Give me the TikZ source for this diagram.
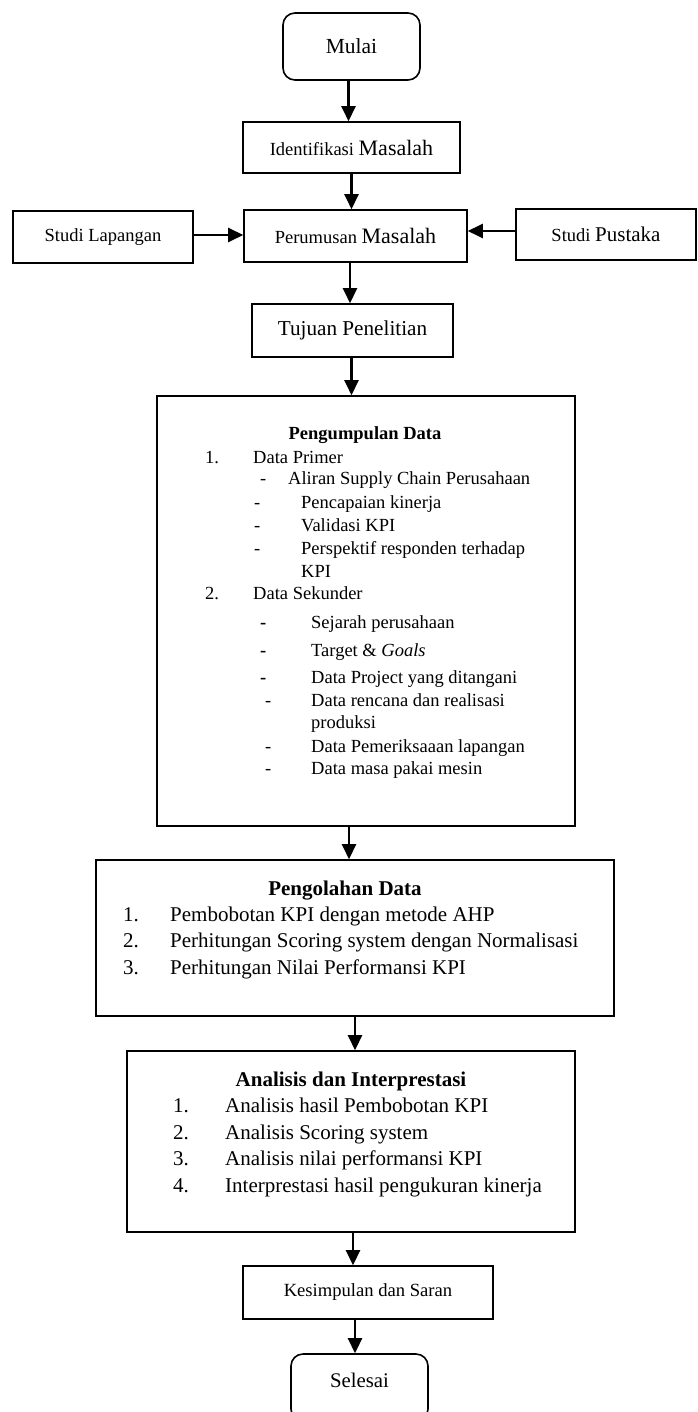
\documentclass[tikz,border=0pt]{standalone}
\usepackage{fontspec}
\setmainfont{Liberation Serif}
\usetikzlibrary{arrows.meta}
\newcommand\ff[1]{\fontsize{#1}{#1}\selectfont}
\begin{document}
\begin{tikzpicture}[x=1pt,y=-1pt,
  box/.style={draw, line width=1.6pt, inner sep=0pt, align=center},
  term/.style={box, rounded corners=12pt},
  arr/.style={line width=2.5pt, -{Triangle[length=15pt,width=14pt]}},
  txt/.style={anchor=base west, inner sep=0pt},
  ttl/.style={anchor=base, inner sep=0pt}]
\useasboundingbox (0,0) rectangle (697,1412);
\clip (0,0) rectangle (697,1412);

% simple boxes
\node[term, minimum width=137pt, minimum height=67pt] (mulai) at (351.5,46.5) {\ff{21.5}Mulai};
\node[box, minimum width=217pt, minimum height=51pt] (idf) at (351.5,147.5) {\ff{18.5}Identifikasi \ff{22}Masalah};
\node[box, minimum width=223pt, minimum height=52pt] (per) at (355.5,236) {\ff{18.5}Perumusan \ff{22}Masalah};
\node[box, minimum width=180pt, minimum height=52pt] (lap) at (103,237) {\ff{18.5}Studi Lapangan};
\node[box, minimum width=180pt, minimum height=51pt] (pus) at (606,234.5) {\ff{18.5}Studi \ff{21}Pustaka};
\node[box, minimum width=201pt, minimum height=53pt] (tuj) at (352.5,330.5) {\ff{21.2}Tujuan Penelitian};
\node[box, minimum width=418pt, minimum height=430pt] (pgm) at (366,611) {};
\node[box, minimum width=518pt, minimum height=156pt] (olh) at (355,938) {};
\node[box, minimum width=448pt, minimum height=181pt] (ana) at (351,1141.5) {};
\node[box, minimum width=250pt, minimum height=53pt] (kes) at (368,1292.5) {\ff{18.6}Kesimpulan dan Saran};
\node[term, minimum width=137pt, minimum height=67pt] (sel) at (359.5,1387.5) {};
\node[inner sep=0pt] (selt) at (359.5,1380) {\ff{20.8}Selesai};

% Pengumpulan Data
\begin{scope}[every node/.append style={font=\ff{18.5}}]
\node[ttl] (pgt) at (365,439) {\bfseries Pengumpulan Data};
\node[txt] (n1) at (205,463) {1.};
\node[txt] (dp) at (253,463) {Data Primer};
\node[txt] (d1) at (260,484) {-};
\node[txt] (t1) at (288,484) {Aliran Supply Chain Perusahaan};
\node[txt] (d2) at (254,508) {-};
\node[txt] (t2) at (301,508) {Pencapaian kinerja};
\node[txt] (d3) at (254,531) {-};
\node[txt] (t3) at (301,531) {Validasi KPI};
\node[txt] (d4) at (254,554) {-};
\node[txt] (t4) at (301,554) {Perspektif responden terhadap};
\node[txt] (t4b) at (301,577) {KPI};
\node[txt] (n2) at (205,599) {2.};
\node[txt] (ds) at (253,599) {Data Sekunder};
\node[txt] (e1) at (260,628) {\bfseries -};
\node[txt] (s1) at (311,628) {Sejarah perusahaan};
\node[txt] (e2) at (260,656) {\bfseries -};
\node[txt] (s2) at (311,656) {Target \& \textit{Goals}};
\node[txt] (e3) at (260,683) {\bfseries -};
\node[txt] (s3) at (311,683) {Data Project yang ditangani};
\node[txt] (e4) at (265,706) {-};
\node[txt] (s4) at (311,706) {Data rencana dan realisasi};
\node[txt] (s4b) at (311,728) {produksi};
\node[txt] (e5) at (265,752) {-};
\node[txt] (s5) at (311,752) {Data Pemeriksaaan lapangan};
\node[txt] (e6) at (265,774) {-};
\node[txt] (s6) at (311,774) {Data masa pakai mesin};
\end{scope}

% Pengolahan Data
\begin{scope}[every node/.append style={font=\ff{21}}]
\node[ttl] (olt) at (345,895) {\bfseries Pengolahan Data};
\node[txt] (o1n) at (123,921) {1.};
\node[txt] (o1) at (170,921) {Pembobotan KPI dengan metode AHP};
\node[txt] (o2n) at (123,947) {2.};
\node[txt] (o2) at (170,947) {Perhitungan Scoring system dengan Normalisasi};
\node[txt] (o3n) at (123,974) {3.};
\node[txt] (o3) at (170,974) {Perhitungan Nilai Performansi KPI};
\end{scope}

% Analisis dan Interprestasi
\begin{scope}[every node/.append style={font=\ff{21}}]
\node[ttl] (ant) at (351,1086) {\bfseries Analisis dan Interprestasi};
\node[txt] (a1n) at (173,1112) {1.};
\node[txt] (a1) at (225,1112) {Analisis hasil Pembobotan KPI};
\node[txt] (a2n) at (173,1139) {2.};
\node[txt] (a2) at (225,1139) {Analisis Scoring system};
\node[txt] (a3n) at (173,1165) {3.};
\node[txt] (a3) at (225,1165) {Analisis nilai performansi KPI};
\node[txt] (a4n) at (173,1192) {4.};
\node[txt] (a4) at (225,1192) {Interprestasi hasil pengukuran kinerja};
\end{scope}

% connectors
\draw[arr] ([xshift=-3pt]mulai.south) -- ([xshift=-3pt]mulai.south |- idf.north);
\draw[arr] (idf.south) -- (idf.south |- per.north);
\draw[arr] ([yshift=2pt]lap.east) -- ([yshift=2pt]lap.east -| per.west);
\draw[arr] ([yshift=3.5pt]pus.west) -- ([yshift=3.5pt]pus.west -| per.east);
\draw[arr] ([xshift=-5.5pt]per.south) -- ([xshift=-5.5pt]per.south |- tuj.north);
\draw[arr] ([xshift=-1pt]tuj.south) -- ([xshift=-1pt]tuj.south |- pgm.north);
\draw[arr] ([xshift=-17pt]pgm.south) -- ([xshift=-17pt]pgm.south |- olh.north);
\draw[arr] (olh.south) -- (olh.south |- ana.north);
\draw[arr] ([xshift=2pt]ana.south) -- ([xshift=2pt]ana.south |- kes.north);
\draw[arr] ([xshift=-13pt]kes.south) -- ([xshift=-13pt]kes.south |- sel.north);
\end{tikzpicture}
\end{document}
